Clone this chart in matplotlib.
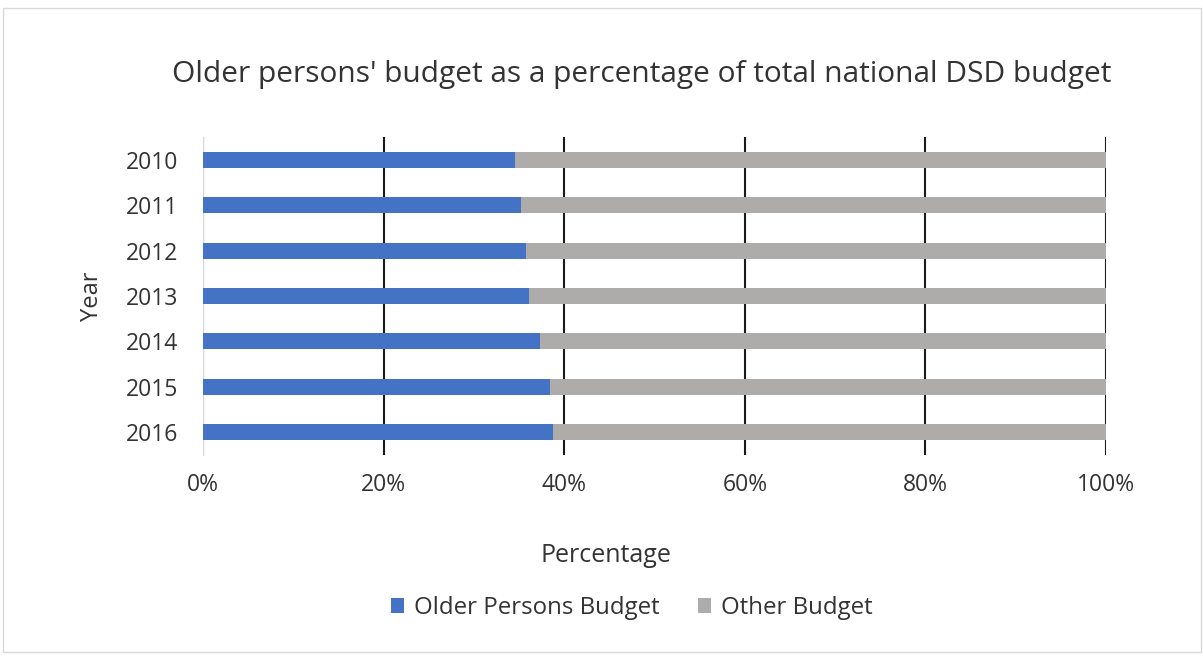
import matplotlib.pyplot as plt
from matplotlib.patches import Rectangle
from matplotlib.ticker import PercentFormatter

plt.rcParams['font.family'] = ['Open Sans', 'DejaVu Sans']

years = ['2010', '2011', '2012', '2013', '2014', '2015', '2016']
older = [34.5, 35.2, 35.8, 36.1, 37.3, 38.4, 38.7]
other = [100 - v for v in older]

txt = '#333333'

fig = plt.figure(figsize=(12.03, 6.57), dpi=100)
ax = fig.add_axes([0.1688, 0.3075, 0.7506, 0.484])

ax.barh(years, older, height=0.35, color='#4472C4', label='Older Persons Budget', zorder=3)
ax.barh(years, other, left=older, height=0.35, color='#AEABAB', label='Other Budget', zorder=3)

ax.set_xlim(0, 100)
ax.set_ylim(6.5, -0.5)
ax.set_xticks(range(0, 101, 20))
ax.xaxis.set_major_formatter(PercentFormatter(decimals=0))
ax.grid(axis='x', color='#1a1a1a', linewidth=1.5, zorder=0)
for s in ['top', 'right', 'bottom']:
    ax.spines[s].set_visible(False)
ax.spines['left'].set_color('#D9D9D9')
ax.tick_params(axis='both', length=0, labelsize=16.5, colors=txt)
ax.tick_params(axis='y', pad=18)
ax.tick_params(axis='x', pad=13)

fig.text(0.504, 0.155, 'Percentage', ha='center', va='center', fontsize=18, color=txt)
fig.text(0.0765, 0.549, 'Year', ha='center', va='center', rotation=90, fontsize=17, color=txt)
fig.text(0.533, 0.886, "Older persons' budget as a percentage of total national DSD budget",
         ha='center', va='center', fontsize=21.5, color=txt)

fig.legend(loc='center', bbox_to_anchor=(0.525, 0.0746), ncol=2, frameon=False,
           fontsize=17.3, handlelength=0.55, handleheight=0.55, columnspacing=1.6,
           handletextpad=0.4, labelcolor=txt)

fig.patches.append(Rectangle((0.0025, 0.0076), 0.9958, 0.980, transform=fig.transFigure,
                             fill=False, edgecolor='#D9D9D9', linewidth=1))

fig.savefig('out.png', dpi=100)
